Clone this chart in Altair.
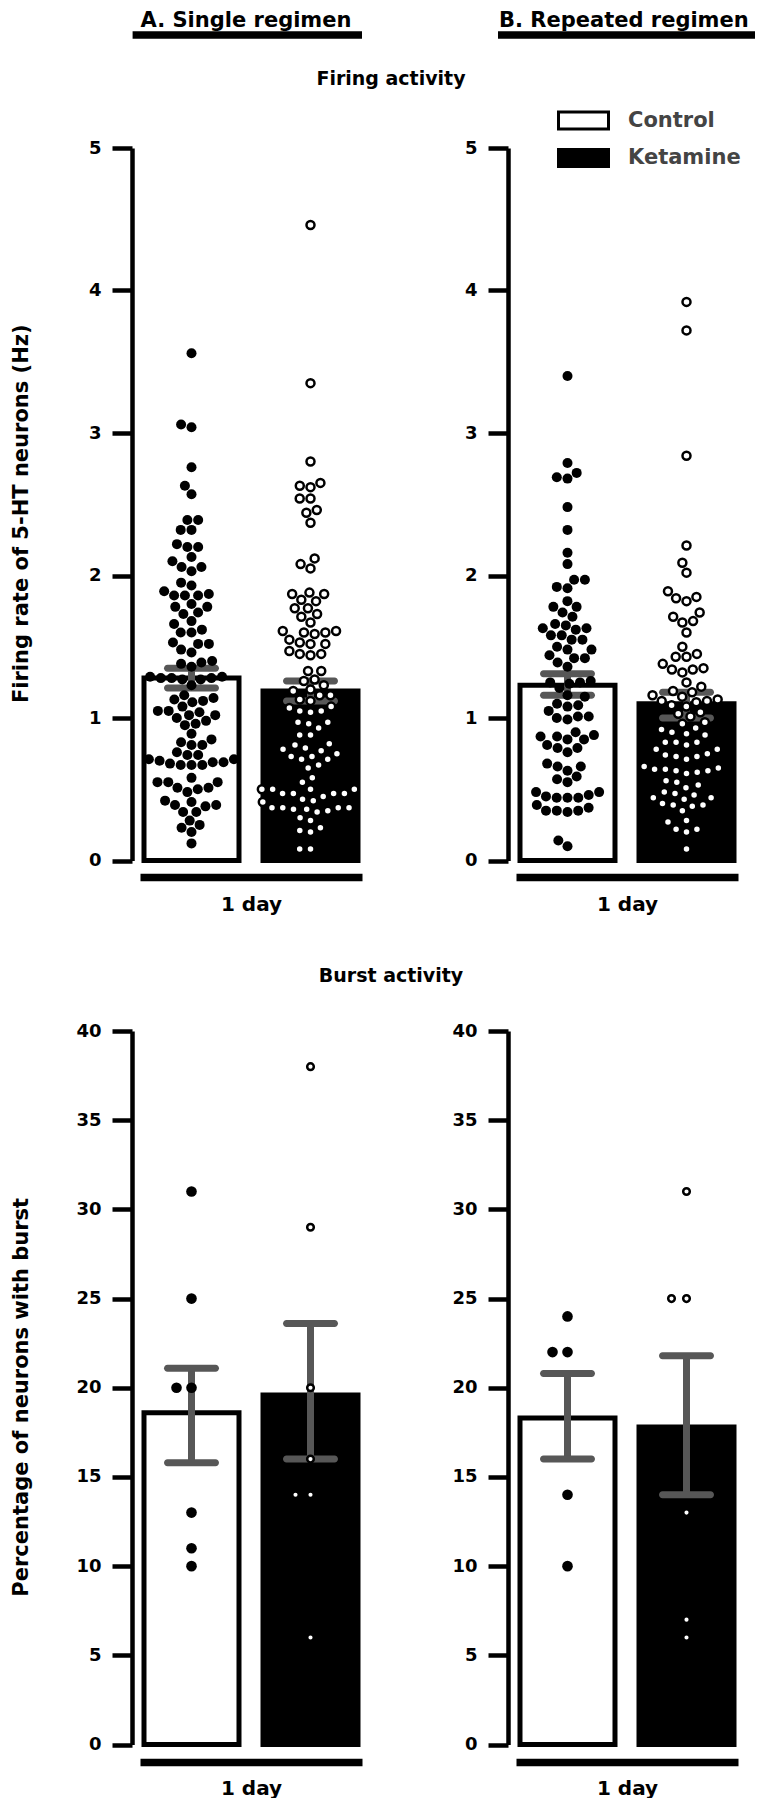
import math
import pandas as pd
import altair as alt

GROUPS = ["Control", "Ketamine"]

# ---- Firing rate of 5-HT neurons (Hz), one value per neuron ----
A_fr_control = [3.56, 3.06, 3.04, 2.76, 2.63, 2.57, 2.39, 2.39, 2.32, 2.32, 2.22, 2.20, 2.20, 2.13,
                2.10, 2.06, 2.06, 2.03, 1.95, 1.93, 1.89, 1.87, 1.86, 1.86, 1.86, 1.80, 1.78, 1.78,
                1.74, 1.73, 1.68, 1.66, 1.62, 1.60, 1.60, 1.53, 1.52, 1.52, 1.48, 1.46, 1.40, 1.39,
                1.38, 1.36, 1.29, 1.28, 1.28, 1.27, 1.28, 1.29, 1.27, 1.23, 1.16, 1.14, 1.13, 1.12,
                1.11, 1.08, 1.05, 1.05, 1.04, 1.02, 1.02, 1.00, 0.98, 0.96, 0.95, 0.89, 0.85, 0.83,
                0.81, 0.81, 0.76, 0.74, 0.74, 0.71, 0.70, 0.69, 0.67, 0.67, 0.67, 0.68, 0.69, 0.71,
                0.58, 0.55, 0.51, 0.48, 0.55, 0.50, 0.51, 0.55, 0.42, 0.41, 0.39, 0.39, 0.38, 0.34,
                0.34, 0.28, 0.25, 0.23, 0.20, 0.12]
A_fr_ketamine = [4.46, 3.35, 2.80, 2.65, 2.63, 2.62, 2.54, 2.54, 2.46, 2.44, 2.37, 2.12, 2.08, 2.05,
                 1.88, 1.87, 1.87, 1.83, 1.82, 1.77, 1.77, 1.73, 1.71, 1.67, 1.61, 1.61, 1.60, 1.60,
                 1.59, 1.55, 1.53, 1.52, 1.52, 1.47, 1.45, 1.45, 1.44, 1.33, 1.33, 1.26, 1.27, 1.23,
                 1.20, 1.19, 1.16, 1.16, 1.13, 1.12, 1.08, 1.05, 1.04, 1.05, 1.07, 0.97, 0.96, 0.97,
                 0.93, 0.88, 0.88, 0.82, 0.79, 0.81, 0.78, 0.75, 0.73, 0.73, 0.77, 0.71, 0.71, 0.67,
                 0.65, 0.58, 0.55, 0.50, 0.50, 0.50, 0.50, 0.47, 0.47, 0.47, 0.47, 0.45, 0.42, 0.41,
                 0.43, 0.37, 0.37, 0.36, 0.34, 0.37, 0.35, 0.36, 0.37, 0.30, 0.28, 0.23, 0.20, 0.21,
                 0.08, 0.08]
B_fr_control = [3.40, 2.79, 2.72, 2.69, 2.68, 2.48, 2.32, 2.16, 2.08, 1.97, 1.97, 1.91, 1.92, 1.82,
                1.78, 1.78, 1.74, 1.71, 1.66, 1.65, 1.63, 1.62, 1.63, 1.58, 1.58, 1.55, 1.55, 1.50,
                1.48, 1.48, 1.44, 1.42, 1.42, 1.39, 1.36, 1.25, 1.25, 1.24, 1.26, 1.21, 1.16, 1.15,
                1.10, 1.09, 1.08, 1.05, 1.01, 0.99, 1.00, 1.01, 0.88, 0.90, 0.87, 0.85, 0.79, 0.76,
                0.79, 0.81, 0.85, 0.87, 0.66, 0.63, 0.66, 0.68, 0.59, 0.57, 0.55, 0.45, 0.44, 0.46,
                0.44, 0.44, 0.48, 0.48, 0.37, 0.35, 0.34, 0.35, 0.35, 0.39, 0.14, 0.10]
B_fr_ketamine = [3.92, 3.72, 2.84, 2.21, 2.09, 2.02, 1.89, 1.85, 1.84, 1.82, 1.74, 1.71, 1.68, 1.67,
                 1.60, 1.50, 1.45, 1.43, 1.43, 1.38, 1.35, 1.34, 1.34, 1.32, 1.25, 1.22, 1.19, 1.18,
                 1.16, 1.15, 1.13, 1.12, 1.12, 1.11, 1.09, 1.08, 1.04, 1.03, 1.01, 0.97, 0.96, 0.93,
                 0.92, 0.90, 0.89, 0.88, 0.83, 0.83, 0.81, 0.83, 0.78, 0.78, 0.75, 0.74, 0.73, 0.73,
                 0.71, 0.66, 0.65, 0.64, 0.64, 0.63, 0.63, 0.62, 0.61, 0.56, 0.55, 0.53, 0.51, 0.48,
                 0.47, 0.46, 0.44, 0.44, 0.43, 0.40, 0.39, 0.39, 0.38, 0.35, 0.28, 0.27, 0.22, 0.22,
                 0.20, 0.08]

# ---- Percentage of neurons with burst, one value per animal ----
A_burst_control = [31, 25, 20, 20, 13, 11, 10]
A_burst_ketamine = [38, 29, 20, 16, 14, 14, 6]
B_burst_control = [24, 22, 22, 14, 10]
B_burst_ketamine = [31, 25, 25, 13, 7, 6]

# ---- bar heights (mean) and error-bar limits (mean -/+ SEM), Control / Ketamine ----
A_fr_mean, A_fr_lo, A_fr_hi = [1.28, 1.19], [1.21, 1.12], [1.35, 1.26]
B_fr_mean, B_fr_lo, B_fr_hi = [1.23, 1.10], [1.16, 1.00], [1.31, 1.18]
A_burst_mean, A_burst_lo, A_burst_hi = [18.6, 19.6], [15.8, 16.0], [21.1, 23.6]
B_burst_mean, B_burst_lo, B_burst_hi = [18.3, 17.8], [16.0, 14.0], [20.8, 21.8]

# ---- layout / style ----
W = 222
H_TOP = 712.5
H_BOT = 713.5
PAD_IN = 0.2017
PAD_OUT = 0.0336
BW = W / (2 - PAD_IN + 2 * PAD_OUT) * (1 - PAD_IN)
GRAY = "#575757"
FONT = "DejaVu Sans"


def swarm(values, px_per_unit, d):
    """Beeswarm offsets (pixels) so that markers of diameter d do not overlap."""
    order = sorted(range(len(values)), key=lambda i: values[i])
    placed = []
    offs = [0.0] * len(values)
    for i in order:
        y = values[i] * px_per_unit
        near = [(x0, y0) for (x0, y0) in placed if abs(y0 - y) < d]
        cands = [0.0]
        for x0, y0 in near:
            dx = math.sqrt(max(d * d - (y - y0) ** 2, 0))
            cands += [x0 + dx, x0 - dx]
        cands.sort(key=lambda c: (round(abs(c), 6), c))
        for c in cands:
            if all((c - x0) ** 2 + (y - y0) ** 2 >= d * d - 1e-6 for x0, y0 in near):
                offs[i] = c
                break
        placed.append((offs[i], y))
    return offs


def panel(ctrl, ket, mean, lo, hi, ymax, ystep, height, dsw, sizes, ytitle,
          legend, decos, xoff, xtpad):
    pxu = height / ymax
    rows = []
    for g, vals in zip(GROUPS, [ctrl, ket]):
        for v, o in zip(vals, swarm(vals, pxu, dsw)):
            rows.append({"group": g, "value": v, "off": o})
    pts = pd.DataFrame(rows)
    bars = pd.DataFrame({"group": GROUPS, "mean": mean, "lo": lo, "hi": hi})

    xaxis = alt.Axis(title="1 day", labels=False, ticks=False, domain=True,
                     domainWidth=7.5, domainColor="black", offset=xoff,
                     titlePadding=xtpad, titleFontSize=20, titleFont=FONT,
                     titleFontWeight="bold", titleColor="black")
    xscale = alt.Scale(domain=GROUPS, paddingInner=PAD_IN, paddingOuter=PAD_OUT)
    yaxis_kw = dict(values=list(range(0, ymax + 1, ystep)), offset=8, tickSize=20,
                    tickWidth=4.5, domainWidth=4.5, labelPadding=11, grid=False)
    if ytitle:
        yaxis = alt.Axis(title=ytitle, titleX=-110.5, titleY=height / 2 + 9,
                         titleBaseline="middle", titleAlign="center", titleAngle=270,
                         titleFontSize=21, **yaxis_kw)
    else:
        yaxis = alt.Axis(title=None, **yaxis_kw)
    yscale = alt.Scale(domain=[0, ymax], nice=False, zero=True)

    def X():
        return alt.X("group:N", scale=xscale, axis=xaxis)

    def Y(f):
        return alt.Y(f, type="quantitative", scale=yscale, axis=yaxis)

    fill_kw = {"scale": alt.Scale(domain=GROUPS, range=["white", "black"])}
    fill_kw["legend"] = legend if legend is not None else None
    bar = alt.Chart(bars).mark_bar(stroke="black", strokeWidth=5, width=BW).encode(
        x=X(), y=Y("mean"), fill=alt.Fill("group:N", **fill_kw))
    err = alt.Chart(bars).mark_rule(color=GRAY, strokeWidth=7).encode(
        x=X(), y=Y("lo"), y2="hi:Q")
    cap_lo = alt.Chart(bars).mark_tick(color=GRAY, size=55, thickness=7,
                                       cornerRadius=3.5, opacity=1).encode(x=X(), y=Y("lo"))
    cap_hi = alt.Chart(bars).mark_tick(color=GRAY, size=55, thickness=7,
                                       cornerRadius=3.5, opacity=1).encode(x=X(), y=Y("hi"))
    xo = alt.XOffset("off:Q", scale=alt.Scale(domain=[-BW / 2, BW / 2]))
    p_ctrl = alt.Chart(pts).transform_filter(alt.datum.group == "Control").mark_circle(
        fill="black", opacity=1, size=sizes[0]).encode(x=X(), xOffset=xo, y=Y("value"))
    p_ket = alt.Chart(pts).transform_filter(alt.datum.group == "Ketamine").mark_circle(
        fill="white", stroke="black", strokeWidth=2.5, opacity=1, size=sizes[1]).encode(
        x=X(), xOffset=xo, y=Y("value"))
    return alt.layer(bar, err, cap_lo, cap_hi, p_ctrl, p_ket, *decos).properties(
        width=W, height=height)


def label(text, x, y, size, align="center", color="black"):
    return alt.Chart(pd.DataFrame({"t": [text]})).mark_text(
        font=FONT, fontWeight="bold", fontSize=size, align=align, baseline="middle",
        color=color).encode(text="t:N", x=alt.value(x), y=alt.value(y))


def underline(x1, x2, y):
    return alt.Chart(pd.DataFrame({"k": [0]})).mark_rule(
        color="black", strokeWidth=7.6).encode(x=alt.value(x1), x2=alt.value(x2), y=alt.value(y))


legend = alt.Legend(orient="none", legendX=56, legendY=-39, title=None, direction="vertical",
                    symbolType="M-2.5,-0.85H2.5V0.85H-2.5Z", symbolSize=400,
                    symbolStrokeColor="black", symbolStrokeWidth=3, symbolOpacity=1,
                    labelFont=FONT, labelFontWeight="bold", labelFontSize=21,
                    labelColor="#444444", labelOffset=33, rowPadding=8.5, padding=0)

A_top = panel(A_fr_control, A_fr_ketamine, A_fr_mean, A_fr_lo, A_fr_hi, 5, 1, H_TOP, 10.8,
              [100, 64], "Firing rate of 5-HT neurons (Hz)", None,
              [label("A. Single regimen", 106, -127.5, 21), underline(-7.4, 222, -113),
               label("Firing activity", 251, -69.5, 19)], 16.5, 17)
B_top = panel(B_fr_control, B_fr_ketamine, B_fr_mean, B_fr_lo, B_fr_hi, 5, 1, H_TOP, 10.8,
              [100, 64], None, legend,
              [label("B. Repeated regimen", -17, -127.5, 21, align="left"),
               underline(-18, 239, -113)], 16.5, 17)
A_bot = panel(A_burst_control, A_burst_ketamine, A_burst_mean, A_burst_lo, A_burst_hi, 40, 5,
              H_BOT, 15, [113, 44], "Percentage of neurons with burst", None,
              [label("Burst activity", 251, -55, 19)], 17.5, 16)
B_bot = panel(B_burst_control, B_burst_ketamine, B_burst_mean, B_burst_lo, B_burst_hi, 40, 5,
              H_BOT, 15, [113, 44], None, None, [], 17.5, 16)

chart = alt.concat(A_top, B_top, A_bot, B_bot, columns=2,
                   spacing={"row": 170, "column": 154}, bounds="flush").resolve_scale(
    fill="independent", x="independent", y="independent").properties(
    padding={"left": 2, "top": 1, "right": -4, "bottom": 0},
    background="white").configure_view(
    strokeWidth=0).configure_axis(
    labelFont=FONT, labelFontWeight="bold", labelFontSize=18, labelColor="black",
    titleFont=FONT, titleFontWeight="bold", titleColor="black",
    domainColor="black", tickColor="black")

chart.save("out.html", embed_options={"renderer": "svg", "actions": False})
